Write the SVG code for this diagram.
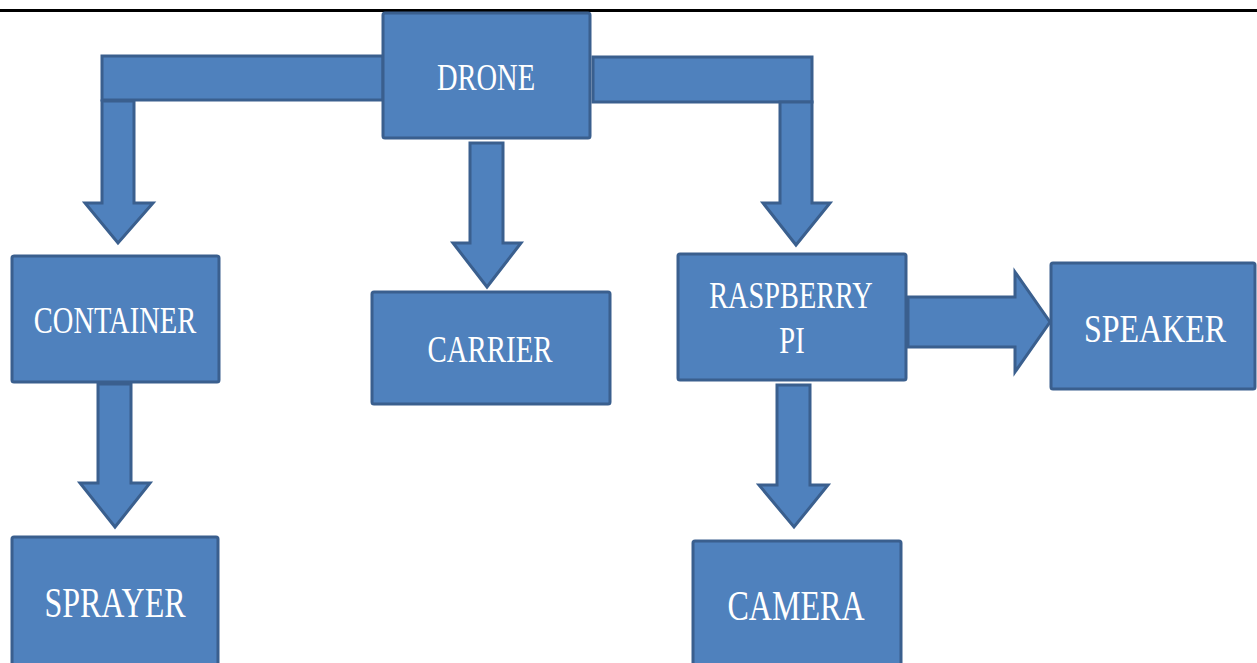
<svg xmlns="http://www.w3.org/2000/svg" width="1257" height="663" viewBox="0 0 1257 663">
<style>
.s{fill:#4F81BD;stroke:#3A5F8E;stroke-width:3;stroke-linejoin:miter}
.t{fill:#FFFFFF;font-family:'Liberation Serif','Times New Roman',serif;text-anchor:middle}
</style>
<rect x="0" y="0" width="1257" height="663" fill="#FFFFFF"/>
<rect x="0" y="9" width="1257" height="3" fill="#000000"/>
<g id="connectors">
<rect class="s" x="102" y="56" width="281" height="44"/>
<polygon class="s" points="102,101 134,101 134,203 153,203 118,243 85,203 102,203"/>
<rect class="s" x="593" y="57" width="219" height="45"/>
<polygon class="s" points="780,102 812,102 812,203 830,203 796,245 763,203 780,203"/>
<polygon class="s" points="470,143 503,143 503,243 521,243 487,287 453,243 470,243"/>
<polygon class="s" points="98,384 131,384 131,483 150,483 115,527 80,483 98,483"/>
<polygon class="s" points="777,385 810,385 810,485 828,485 794,527 759,485 777,485"/>
<polygon class="s" points="908,297 1015,297 1015,272 1050,322 1015,372 1015,347 908,347"/>
</g>
<g id="drone">
<rect class="s" x="383" y="13" width="207" height="125" rx="2"/>
<text class="t" transform="translate(486,90) scale(0.75,1)" font-size="38">DRONE</text>
</g>
<g id="container">
<rect class="s" x="12" y="256" width="207" height="126" rx="2"/>
<text class="t" transform="translate(115,333) scale(0.74,1)" font-size="38.5">CONTAINER</text>
</g>
<g id="carrier">
<rect class="s" x="372" y="292" width="238" height="112" rx="2"/>
<text class="t" transform="translate(490,362) scale(0.76,1)" font-size="38">CARRIER</text>
</g>
<g id="raspberry">
<rect class="s" x="678" y="254" width="228" height="126" rx="2"/>
<text class="t" transform="translate(791,308) scale(0.745,1)" font-size="38">RASPBERRY</text>
<text class="t" transform="translate(792,353) scale(0.75,1)" font-size="38">PI</text>
</g>
<g id="speaker">
<rect class="s" x="1051" y="263" width="204" height="126" rx="2"/>
<text class="t" transform="translate(1155,342) scale(0.78,1)" font-size="41">SPEAKER</text>
</g>
<g id="sprayer">
<rect class="s" x="12" y="537" width="206" height="140" rx="2"/>
<text class="t" transform="translate(115,617) scale(0.745,1)" font-size="43">SPRAYER</text>
</g>
<g id="camera">
<rect class="s" x="693" y="541" width="208" height="140" rx="2"/>
<text class="t" transform="translate(796,620) scale(0.745,1)" font-size="43">CAMERA</text>
</g>
</svg>
